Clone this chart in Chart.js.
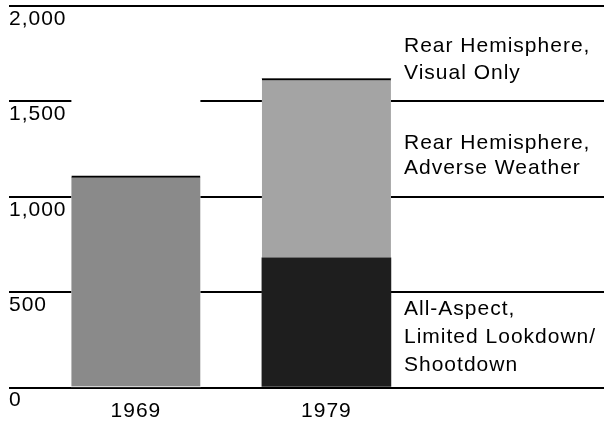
<!DOCTYPE html>
<html>
<head>
<meta charset="utf-8">
<script src="https://cdn.jsdelivr.net/npm/chart.js@4"></script>
<style>
  html, body { margin: 0; padding: 0; background: #fff; }
  #wrap { width: 604px; height: 422px; }
</style>
</head>
<body>
<div id="wrap"><canvas id="chart"></canvas></div>
<script>
// data
const years = [1969, 1979];
const visualOnly = [1110, 0];
const adverseWeather = [0, 940];
const allAspect = [0, 680];
const yTicks = [0, 500, 1000, 1500, 2000];

const sideNotes = [
  { lines: ["Rear Hemisphere,", "Visual Only"], y: 52, gap: 27 },
  { lines: ["Rear Hemisphere,", "Adverse Weather"], y: 149, gap: 25 },
  { lines: ["All-Aspect,", "Limited Lookdown/", "Shootdown"], y: 315, gap: 28 }
];

const FONT = "'Liberation Sans', Arial, sans-serif";

// hide the grid inside the bar columns, like the original
const columnMask = {
  id: "columnMask",
  beforeDatasetsDraw(chart) {
    const ctx = chart.ctx;
    const y = chart.scales.y;
    const meta = chart.getDatasetMeta(0);
    ctx.save();
    ctx.fillStyle = "#fff";
    meta.data.forEach(el => {
      const top = y.getPixelForValue(1900);
      const bottom = y.getPixelForValue(0) - 1.5;
      ctx.fillRect(el.x - el.width / 2, top, el.width, bottom - top);
    });
    ctx.restore();
  }
};

const notes = {
  id: "notes",
  beforeDraw(chart) {
    chart.ctx.letterSpacing = "1px";
  },
  afterDraw(chart) {
    const ctx = chart.ctx;
    ctx.save();
    ctx.fillStyle = "#000";
    ctx.font = "21px " + FONT;
    ctx.textBaseline = "alphabetic";
    ctx.textAlign = "left";
    sideNotes.forEach(n => {
      n.lines.forEach((t, i) => ctx.fillText(t, 404, n.y + i * n.gap));
    });
    ctx.restore();
  }
};

new Chart(document.getElementById("chart"), {
  type: "bar",
  data: {
    labels: years,
    datasets: [
      { label: "All-Aspect", data: allAspect, backgroundColor: "#1e1e1e", borderWidth: 0 },
      { label: "Rear Hemisphere, Adverse Weather", data: adverseWeather, backgroundColor: "#a4a4a4",
        borderColor: "#000", borderWidth: { top: 2, left: 0, right: 0, bottom: 0 }, borderSkipped: false },
      { label: "Rear Hemisphere, Visual Only", data: visualOnly, backgroundColor: "#8a8a8a",
        borderColor: "#000", borderWidth: { top: 2, left: 0, right: 0, bottom: 0 }, borderSkipped: false }
    ]
  },
  options: {
    responsive: true,
    maintainAspectRatio: false,
    animation: false,
    layout: { padding: { top: 6, left: 9, right: 0, bottom: 0 } },
    plugins: { legend: { display: false }, tooltip: { enabled: false } },
    datasets: { bar: { barThickness: 129 } },
    scales: {
      x: {
        type: "linear",
        stacked: true,
        offset: false,
        min: 1962.34,
        max: 1993.57,
        grid: { display: false, drawTicks: false },
        border: { display: false },
        afterBuildTicks: s => { s.ticks = years.map(v => ({ value: v })); },
        afterFit: s => { s.height = 34.5; },
        ticks: {
          color: "#000",
          padding: 13,
          maxRotation: 0,
          font: { family: FONT, size: 21, lineHeight: 1 },
          callback: v => String(v)
        }
      },
      y: {
        stacked: true,
        min: 0,
        max: 2000,
        afterBuildTicks: s => { s.ticks = yTicks.map(v => ({ value: v })); },
        afterFit: s => { s.width = 0; s.paddingTop = 0; s.paddingBottom = 0; },
        grid: { color: "#000", lineWidth: 2, drawTicks: false },
        border: { display: false },
        ticks: {
          mirror: true,
          padding: 0,
          labelOffset: 13,
          color: "#000",
          font: { family: FONT, size: 21 },
          callback: v => v.toLocaleString("en-US")
        }
      }
    }
  },
  plugins: [columnMask, notes]
});
</script>
</body>
</html>
